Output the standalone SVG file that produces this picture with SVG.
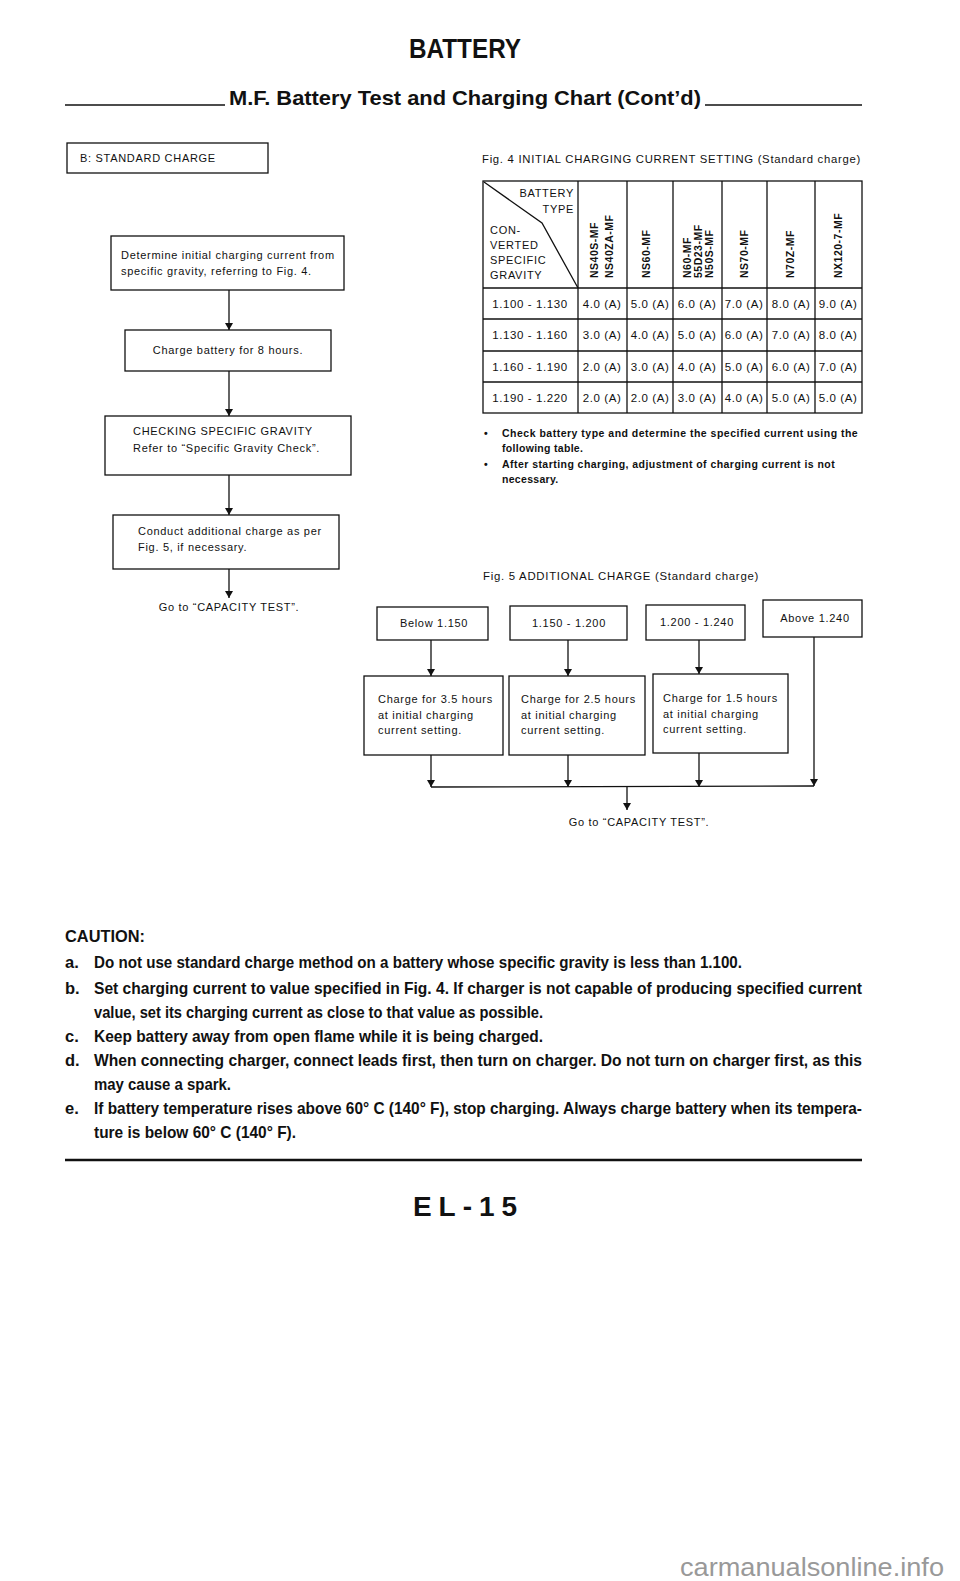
<svg xmlns="http://www.w3.org/2000/svg" width="960" height="1581" viewBox="0 0 960 1581">
<defs>
<style>
.bg{fill:#fff}
.box{fill:none;stroke:#111;stroke-width:1.3}
.ln{fill:none;stroke:#111;stroke-width:1.3}
.t{font-family:"Liberation Sans",Arial,sans-serif;font-size:11px;letter-spacing:0.7px;fill:#111}
.tc{text-anchor:middle}
.tv{font-family:"Liberation Sans",Arial,sans-serif;font-size:11.5px;letter-spacing:0.6px;fill:#111;text-anchor:middle}
.th{font-family:"Liberation Sans",Arial,sans-serif;font-size:10.5px;font-weight:bold;letter-spacing:0.5px;fill:#111}
.tb{font-family:"Liberation Sans",Arial,sans-serif;font-size:10.5px;font-weight:bold;letter-spacing:0.3px;fill:#111}
.cau{font-family:"Liberation Sans",Arial,sans-serif;font-size:16.5px;font-weight:bold;fill:#111}
.head{font-family:"Liberation Sans",Arial,sans-serif;font-weight:bold;fill:#111}
</style>
<marker id="ah" markerWidth="7" markerHeight="8" refX="7" refY="4" orient="auto" markerUnits="userSpaceOnUse">
<path d="M0,0 L7,4 L0,8 z" fill="#111"/>
</marker>
</defs>
<rect class="bg" x="0" y="0" width="960" height="1581"/>

<!-- Header -->
<g id="header">
<text class="head" x="465" y="58" font-size="27" text-anchor="middle" textLength="112" lengthAdjust="spacingAndGlyphs">BATTERY</text>
<line x1="65" y1="105" x2="225" y2="105" stroke="#111" stroke-width="1.5"/>
<text class="head" x="229" y="105" font-size="21" textLength="472" lengthAdjust="spacingAndGlyphs">M.F. Battery Test and Charging Chart (Cont’d)</text>
<line x1="705" y1="105" x2="862" y2="105" stroke="#111" stroke-width="1.5"/>
</g>

<g id="title-box">
<rect class="box" x="67" y="143" width="201" height="30"/>
<text class="t" x="80" y="162" letter-spacing="1.2">B: STANDARD CHARGE</text>
</g>

<!-- Left flowchart -->
<g id="n-determine">
<rect class="box" x="111" y="236" width="233" height="54"/>
<text class="t" x="121" y="259">Determine initial charging current from</text>
<text class="t" x="121" y="275">specific gravity, referring to Fig. 4.</text>
</g>
<g id="n-charge8">
<rect class="box" x="125" y="330" width="206" height="41"/>
<text class="t tc" x="228" y="354">Charge battery for 8 hours.</text>
</g>
<g id="n-checking">
<rect class="box" x="105" y="416" width="246" height="59"/>
<text class="t" x="133" y="435">CHECKING SPECIFIC GRAVITY</text>
<text class="t" x="133" y="452">Refer to “Specific Gravity Check”.</text>
</g>
<g id="n-conduct">
<rect class="box" x="113" y="515" width="226" height="54"/>
<text class="t" x="138" y="535">Conduct additional charge as per</text>
<text class="t" x="138" y="551">Fig. 5, if necessary.</text>
</g>
<g id="n-goto1">
<text class="t tc" x="229" y="611">Go to “CAPACITY TEST”.</text>
</g>

<!-- Fig. 4 table -->
<g id="fig4">
<text class="t" x="482" y="163" textLength="379" lengthAdjust="spacingAndGlyphs">Fig. 4  INITIAL CHARGING CURRENT SETTING (Standard charge)</text>
<rect class="box" x="483" y="181" width="379" height="232"/>
<g class="ln">
<line x1="578" y1="181" x2="578" y2="413"/>
<line x1="627" y1="181" x2="627" y2="413"/>
<line x1="673" y1="181" x2="673" y2="413"/>
<line x1="722" y1="181" x2="722" y2="413"/>
<line x1="767" y1="181" x2="767" y2="413"/>
<line x1="815" y1="181" x2="815" y2="413"/>
<line x1="483" y1="288" x2="862" y2="288"/>
<line x1="483" y1="319" x2="862" y2="319"/>
<line x1="483" y1="351" x2="862" y2="351"/>
<line x1="483" y1="382" x2="862" y2="382"/>
<polyline points="484,182 542,223 578,288"/>
</g>
<text class="t" x="574" y="197" text-anchor="end" font-size="11.5" letter-spacing="1.2">BATTERY</text>
<text class="t" x="574" y="213" text-anchor="end" font-size="11.5" letter-spacing="1.2">TYPE</text>
<text class="t" x="490" y="234" font-size="11.5" letter-spacing="1.2">CON-</text>
<text class="t" x="490" y="249" font-size="11.5" letter-spacing="1.2">VERTED</text>
<text class="t" x="490" y="264" font-size="11.5" letter-spacing="1.2">SPECIFIC</text>
<text class="t" x="490" y="279" font-size="11.5" letter-spacing="1.2">GRAVITY</text>

<text class="th" transform="translate(598,278) rotate(-90)">NS40S-MF</text>
<text class="th" transform="translate(613,278) rotate(-90)">NS40ZA-MF</text>
<text class="th" transform="translate(650,278) rotate(-90)">NS60-MF</text>
<text class="th" font-size="10" transform="translate(691,278) rotate(-90)">N60-MF</text>
<text class="th" font-size="10" transform="translate(702,278) rotate(-90)">55D23-MF</text>
<text class="th" font-size="10" transform="translate(713,278) rotate(-90)">N50S-MF</text>
<text class="th" transform="translate(748,278) rotate(-90)">NS70-MF</text>
<text class="th" transform="translate(794,278) rotate(-90)">N70Z-MF</text>
<text class="th" transform="translate(842,278) rotate(-90)">NX120-7-MF</text>

<text class="tv" x="530" y="308" letter-spacing="0.9">1.100 - 1.130</text>
<text class="tv" x="530" y="339" letter-spacing="0.9">1.130 - 1.160</text>
<text class="tv" x="530" y="371" letter-spacing="0.9">1.160 - 1.190</text>
<text class="tv" x="530" y="402" letter-spacing="0.9">1.190 - 1.220</text>

<text class="tv" x="602" y="308">4.0 (A)</text>
<text class="tv" x="650" y="308">5.0 (A)</text>
<text class="tv" x="697" y="308">6.0 (A)</text>
<text class="tv" x="744" y="308">7.0 (A)</text>
<text class="tv" x="791" y="308">8.0 (A)</text>
<text class="tv" x="838" y="308">9.0 (A)</text>

<text class="tv" x="602" y="339">3.0 (A)</text>
<text class="tv" x="650" y="339">4.0 (A)</text>
<text class="tv" x="697" y="339">5.0 (A)</text>
<text class="tv" x="744" y="339">6.0 (A)</text>
<text class="tv" x="791" y="339">7.0 (A)</text>
<text class="tv" x="838" y="339">8.0 (A)</text>

<text class="tv" x="602" y="371">2.0 (A)</text>
<text class="tv" x="650" y="371">3.0 (A)</text>
<text class="tv" x="697" y="371">4.0 (A)</text>
<text class="tv" x="744" y="371">5.0 (A)</text>
<text class="tv" x="791" y="371">6.0 (A)</text>
<text class="tv" x="838" y="371">7.0 (A)</text>

<text class="tv" x="602" y="402">2.0 (A)</text>
<text class="tv" x="650" y="402">2.0 (A)</text>
<text class="tv" x="697" y="402">3.0 (A)</text>
<text class="tv" x="744" y="402">4.0 (A)</text>
<text class="tv" x="791" y="402">5.0 (A)</text>
<text class="tv" x="838" y="402">5.0 (A)</text>

<text class="tb" x="484" y="437">•</text>
<text class="tb" x="502" y="437" textLength="356" lengthAdjust="spacing">Check battery type and determine the specified current using the</text>
<text class="tb" x="502" y="452">following table.</text>
<text class="tb" x="484" y="468">•</text>
<text class="tb" x="502" y="468" textLength="333" lengthAdjust="spacing">After starting charging, adjustment of charging current is not</text>
<text class="tb" x="502" y="483">necessary.</text>
</g>

<!-- Fig. 5 -->
<g id="fig5-caption">
<text class="t" x="483" y="580" textLength="276" lengthAdjust="spacingAndGlyphs">Fig. 5  ADDITIONAL CHARGE (Standard charge)</text>
</g>
<g id="n-below">
<rect class="box" x="377" y="607" width="111" height="33"/>
<text class="t tc" x="434" y="627">Below 1.150</text>
</g>
<g id="n-1150">
<rect class="box" x="510" y="606" width="117" height="34"/>
<text class="t tc" x="569" y="627">1.150 - 1.200</text>
</g>
<g id="n-1200">
<rect class="box" x="646" y="605" width="99" height="35"/>
<text class="t tc" x="697" y="626">1.200 - 1.240</text>
</g>
<g id="n-above">
<rect class="box" x="763" y="600" width="99" height="37"/>
<text class="t tc" x="815" y="622">Above 1.240</text>
</g>
<g id="n-35h">
<rect class="box" x="364" y="676" width="139" height="79"/>
<text class="t" x="378" y="703">Charge for 3.5 hours</text>
<text class="t" x="378" y="719">at initial charging</text>
<text class="t" x="378" y="734">current setting.</text>
</g>
<g id="n-25h">
<rect class="box" x="509" y="676" width="136" height="79"/>
<text class="t" x="521" y="703">Charge for 2.5 hours</text>
<text class="t" x="521" y="719">at initial charging</text>
<text class="t" x="521" y="734">current setting.</text>
</g>
<g id="n-15h">
<rect class="box" x="653" y="674" width="135" height="79"/>
<text class="t" x="663" y="702">Charge for 1.5 hours</text>
<text class="t" x="663" y="718">at initial charging</text>
<text class="t" x="663" y="733">current setting.</text>
</g>
<g id="n-goto2">
<text class="t tc" x="639" y="826">Go to “CAPACITY TEST”.</text>
</g>

<!-- Connectors -->
<g id="connectors" class="ln">
<line x1="229" y1="290" x2="229" y2="330" marker-end="url(#ah)"/>
<line x1="229" y1="371" x2="229" y2="416" marker-end="url(#ah)"/>
<line x1="229" y1="475" x2="229" y2="515" marker-end="url(#ah)"/>
<line x1="229" y1="569" x2="229" y2="598" marker-end="url(#ah)"/>

<line x1="431" y1="640" x2="431" y2="676" marker-end="url(#ah)"/>
<line x1="568" y1="640" x2="568" y2="676" marker-end="url(#ah)"/>
<line x1="699" y1="640" x2="699" y2="674" marker-end="url(#ah)"/>
<line x1="814" y1="637" x2="814" y2="786" marker-end="url(#ah)"/>
<line x1="431" y1="755" x2="431" y2="787" marker-end="url(#ah)"/>
<line x1="568" y1="755" x2="568" y2="787" marker-end="url(#ah)"/>
<line x1="699" y1="753" x2="699" y2="787" marker-end="url(#ah)"/>
<polyline points="431,787 814,786"/>
<line x1="627" y1="787" x2="627" y2="810" marker-end="url(#ah)"/>
</g>

<!-- Caution -->
<g id="caution">
<text class="cau" x="65" y="942" textLength="80" lengthAdjust="spacingAndGlyphs">CAUTION:</text>
<text class="cau" x="65" y="968">a.</text>
<text class="cau" x="94" y="968" textLength="648" lengthAdjust="spacingAndGlyphs">Do not use standard charge method on a battery whose specific gravity is less than 1.100.</text>
<text class="cau" x="65" y="994">b.</text>
<text class="cau" x="94" y="994" textLength="768" lengthAdjust="spacingAndGlyphs">Set charging current to value specified in Fig. 4. If charger is not capable of producing specified current</text>
<text class="cau" x="94" y="1018" textLength="449" lengthAdjust="spacingAndGlyphs">value, set its charging current as close to that value as possible.</text>
<text class="cau" x="65" y="1042">c.</text>
<text class="cau" x="94" y="1042" textLength="449" lengthAdjust="spacingAndGlyphs">Keep battery away from open flame while it is being charged.</text>
<text class="cau" x="65" y="1066">d.</text>
<text class="cau" x="94" y="1066" textLength="768" lengthAdjust="spacingAndGlyphs">When connecting charger, connect leads first, then turn on charger. Do not turn on charger first, as this</text>
<text class="cau" x="94" y="1090" textLength="137" lengthAdjust="spacingAndGlyphs">may cause a spark.</text>
<text class="cau" x="65" y="1114">e.</text>
<text class="cau" x="94" y="1114" textLength="768" lengthAdjust="spacingAndGlyphs">If battery temperature rises above 60° C (140° F), stop charging. Always charge battery when its tempera-</text>
<text class="cau" x="94" y="1138" textLength="202" lengthAdjust="spacingAndGlyphs">ture is below 60° C (140° F).</text>
</g>

<!-- Footer -->
<g id="footer">
<line x1="65" y1="1160" x2="862" y2="1160" stroke="#111" stroke-width="2.5"/>
<text class="head" x="465" y="1216" font-size="28" text-anchor="middle" textLength="104" lengthAdjust="spacing">EL-15</text>
<text x="944" y="1576" font-family="'Liberation Sans',Arial,sans-serif" font-size="26" fill="#999" text-anchor="end" textLength="264" lengthAdjust="spacingAndGlyphs">carmanualsonline.info</text>
</g>
</svg>
